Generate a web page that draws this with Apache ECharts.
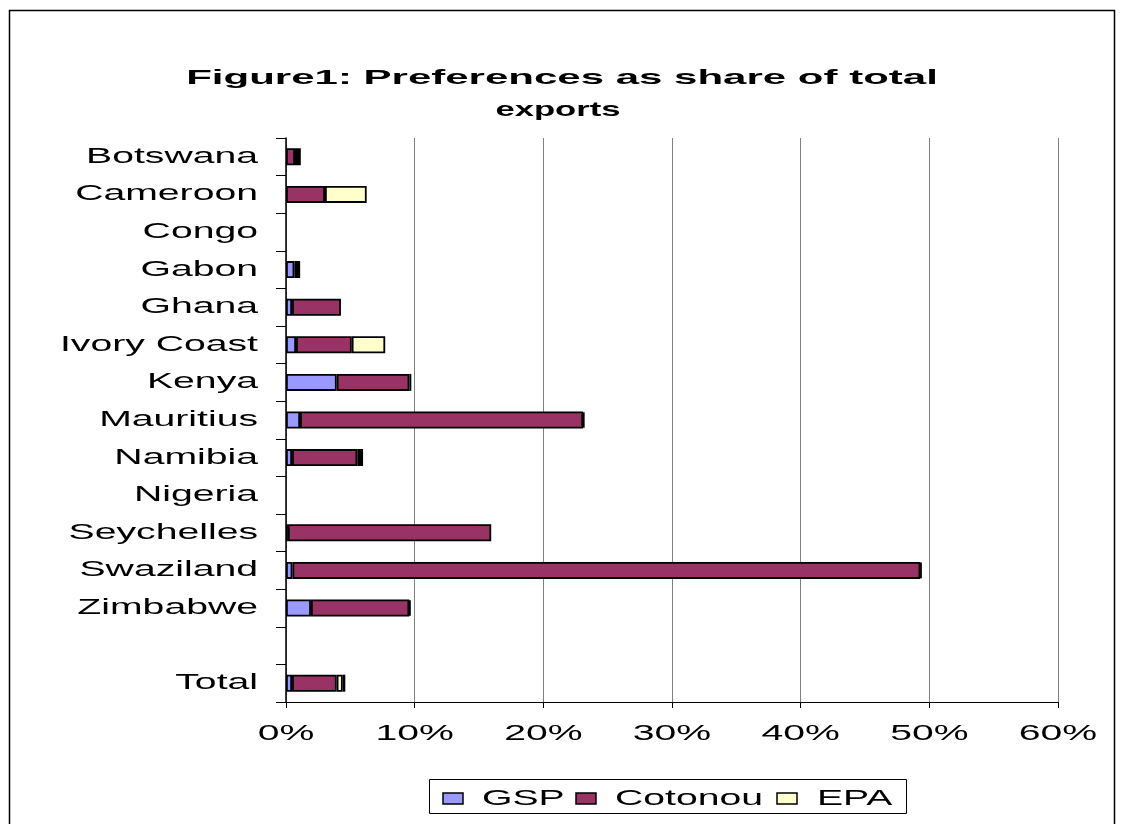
<!DOCTYPE html>
<html>
<head>
<meta charset="utf-8">
<script src="https://cdn.jsdelivr.net/npm/echarts@6/dist/echarts.min.js"></script>
<style>
html,body{margin:0;padding:0;background:#fff;}
#main{width:1124px;height:824px;}
</style>
</head>
<body>
<div id="main"></div>
<script>
// ---- data (percent of total exports) ----
const categories = ['Botswana','Cameroon','Congo','Gabon','Ghana','Ivory Coast','Kenya','Mauritius','Namibia','Nigeria','Seychelles','Swaziland','Zimbabwe','','Total'];
const gspValues     = [null, null, null, 0.65, 0.47, 0.78, 3.94, 1.09, 0.47, null, 0.15, 0.5, 1.94, null, 0.47];
const cotonouValues = [0.7, 3.03, null, null, 3.8, 4.33, 5.65, 22.0, 5.07, null, 15.8, 48.8, 7.64, null, 3.47];
const epaValues     = [null, 3.24, null, null, null, 2.6, null, null, null, null, null, null, null, null, 0.47];
const otherValues   = [0.45, null, null, 0.45, null, null, 0.15, 0.1, 0.45, null, null, 0.1, 0.1, null, 0.2];
const xTickValues = [0, 10, 20, 30, 40, 50, 60];
const xTickLabels = ['0%', '10%', '20%', '30%', '40%', '50%', '60%'];
const legendNames = ['GSP', 'Cotonou', 'EPA'];
const titleLines = ['Figure1: Preferences as share of total', 'exports'];

const colors = { GSP: '#9999FF', Cotonou: '#993366', EPA: '#FFFFCC', Other: '#000000' };
const FONT = '22px "Liberation Sans", Arial, sans-serif';
const FONT_B = 'bold 21px "Liberation Sans", Arial, sans-serif';
const SX = 1.78;

const chart = echarts.init(document.getElementById('main'));

function barSeries(name, data) {
  return {
    name: name, type: 'bar', stack: 'total', data: data, barWidth: 17,
    itemStyle: { color: colors[name], borderColor: '#000', borderWidth: 1.8 },
    emphasis: { disabled: true }
  };
}

chart.setOption({
  animation: false,
  backgroundColor: '#ffffff',
  grid: { left: 286, right: 66, top: 138, bottom: 122 },
  xAxis: {
    type: 'value', min: 0, max: 60, interval: 10,
    axisLine: { show: true, lineStyle: { color: '#000', width: 1 } },
    axisTick: { show: true, length: 6, lineStyle: { color: '#000', width: 1 } },
    axisLabel: { show: false },
    splitLine: { show: true, lineStyle: { color: '#808080', width: 1 } }
  },
  yAxis: {
    type: 'category', data: categories, inverse: true,
    axisLine: { show: true, lineStyle: { color: '#000', width: 1.5 } },
    axisTick: { show: true, length: 10, lineStyle: { color: '#000', width: 1 } },
    axisLabel: { show: false },
    splitLine: { show: false }
  },
  series: [
    barSeries('GSP', gspValues),
    barSeries('Cotonou', cotonouValues),
    barSeries('EPA', epaValues),
    barSeries('Other', otherValues)
  ]
});

function txt(x, y, text, align, vAlign, sx, font) {
  return {
    type: 'text', x: x, y: y, scaleX: sx, silent: true, z: 100,
    style: { text: text, font: font, fill: '#000',
             textAlign: align, align: align,
             textVerticalAlign: vAlign, verticalAlign: vAlign }
  };
}

const g = [];
// outer frame
g.push({ type: 'rect', silent: true, z: 90,
  shape: { x: 9.5, y: 10.5, width: 1105, height: 830 },
  style: { fill: null, stroke: '#000', lineWidth: 1.5 } });
// title
g.push(txt(562, 78, titleLines[0], 'center', 'middle', 2.0, FONT_B));
g.push(txt(558, 110, titleLines[1], 'center', 'middle', 1.65, FONT_B));
// y labels
categories.forEach(function (c, i) {
  if (!c) return;
  const y = chart.convertToPixel({ yAxisIndex: 0 }, i);
  g.push(txt(258, y, c, 'right', 'middle', SX, FONT));
});
// x labels
xTickValues.forEach(function (v, i) {
  const x = chart.convertToPixel({ xAxisIndex: 0 }, v);
  g.push(txt(x, 734, xTickLabels[i], 'center', 'middle', SX, FONT));
});
// legend
g.push({ type: 'rect', silent: true, z: 90,
  shape: { x: 429.5, y: 779.5, width: 477, height: 34 },
  style: { fill: '#fff', stroke: '#000', lineWidth: 1 } });
const legendSwatchX = [443, 576, 777];
const legendTextX = [482, 615, 817];
legendNames.forEach(function (n, i) {
  g.push({ type: 'rect', silent: true, z: 95,
    shape: { x: legendSwatchX[i], y: 793, width: 20, height: 11 },
    style: { fill: colors[n], stroke: '#000', lineWidth: 1.5 } });
  g.push(txt(legendTextX[i], 799, n, 'left', 'middle', SX, FONT));
});

chart.setOption({ graphic: { elements: g } });
</script>
</body>
</html>
